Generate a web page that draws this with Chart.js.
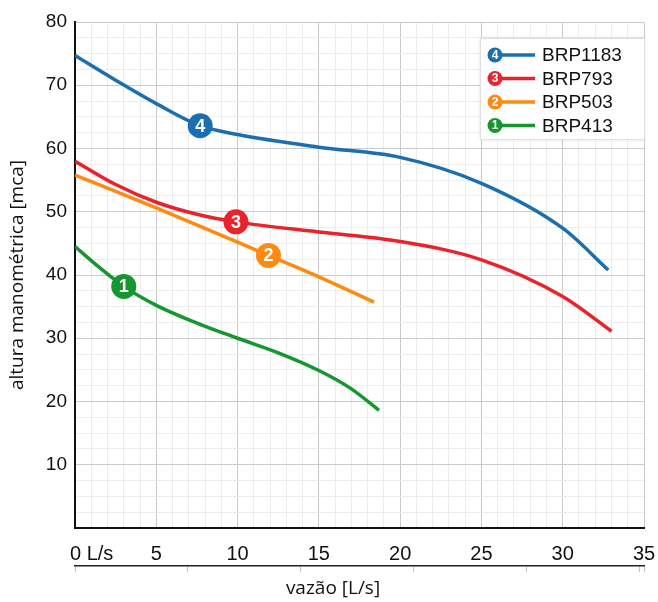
<!DOCTYPE html>
<html>
<head>
<meta charset="utf-8">
<script src="https://cdn.jsdelivr.net/npm/chart.js@4/dist/chart.umd.min.js"></script>
<style>
  html, body { margin: 0; padding: 0; background: #fff; }
  canvas { display: block; }
</style>
</head>
<body>
<canvas id="pumpChart" width="658" height="602"></canvas>
<script>
// pump curves: flow [L/s] vs head [mca]
const pumpNames = ["BRP1183", "BRP793", "BRP503", "BRP413"];
const pumpNumbers = ["4", "3", "2", "1"];
const pumpColors = ["#1b6fb1", "#e9222b", "#ff8a12", "#16962f"];

const flowBRP1183 = [0, 2.5, 5, 7.7, 10, 15, 20, 25, 30, 32.8];
const headBRP1183 = [74.7, 70.8, 67.1, 63.6, 62.2, 60.2, 58.6, 54.5, 47.4, 40.8];

const flowBRP793 = [0, 2.5, 5, 7.5, 9.9, 15, 20, 25, 30, 33.0];
const headBRP793 = [58.0, 54.3, 51.5, 49.6, 48.4, 46.8, 45.3, 42.4, 36.6, 31.1];

const flowBRP503 = [0, 5, 10, 11.9, 15, 18.4];
const headBRP503 = [55.8, 50.6, 45.2, 43.1, 39.7, 35.7];

const flowBRP413 = [0, 1.5, 3, 5, 7.5, 10, 12.5, 15, 17, 18.7];
const headBRP413 = [44.5, 41.2, 38.2, 35.2, 32.4, 30.0, 27.7, 24.9, 22.0, 18.6];

// index of the numbered badge on each curve
const badgeIndex = [3, 4, 3, 2];

// secondary (unlabelled) flow axis in m3/h
const flowM3hMax = 126;

const flows = [flowBRP1183, flowBRP793, flowBRP503, flowBRP413];
const heads = [headBRP1183, headBRP793, headBRP503, headBRP413];

const datasets = pumpNames.map((name, i) => ({
  label: name,
  data: flows[i].map((x, j) => ({ x: x, y: heads[i][j] })),
  borderColor: pumpColors[i],
  backgroundColor: pumpColors[i],
  borderWidth: 3.5,
  cubicInterpolationMode: "monotone",
  pointRadius: flows[i].map((_, j) => (j === badgeIndex[i] ? 12.5 : 0)),
  pointBorderWidth: 0,
  pointBackgroundColor: pumpColors[i],
  fill: false,
  xAxisID: "x",
  yAxisID: "y"
}));

const badgeText = {
  id: "badgeText",
  afterDatasetsDraw(chart) {
    const ctx = chart.ctx;
    ctx.save();
    ctx.fillStyle = "#fff";
    ctx.font = "bold 18px 'Liberation Sans', Arial, sans-serif";
    ctx.textAlign = "center";
    ctx.textBaseline = "middle";
    chart.data.datasets.forEach((ds, i) => {
      const pt = chart.getDatasetMeta(i).data[badgeIndex[i]];
      ctx.fillText(pumpNumbers[i], pt.x, pt.y + 1);
    });
    ctx.restore();
  }
};

const boxLegend = {
  id: "boxLegend",
  afterDraw(chart) {
    const ctx = chart.ctx;
    const left = 480, top = 38, w = 165, h = 102;
    ctx.save();
    ctx.shadowColor = "rgba(0,0,0,0.12)";
    ctx.shadowBlur = 3;
    ctx.fillStyle = "#fff";
    ctx.fillRect(left, top, w, h);
    ctx.shadowColor = "transparent";
    ctx.strokeStyle = "#e0e0e0";
    ctx.lineWidth = 1;
    ctx.strokeRect(left + 0.5, top + 0.5, w - 1, h - 1);
    pumpNames.forEach((name, i) => {
      const cy = top + 17 + i * 23.5;
      ctx.strokeStyle = pumpColors[i];
      ctx.lineWidth = 3.5;
      ctx.beginPath();
      ctx.moveTo(495, cy);
      ctx.lineTo(535, cy);
      ctx.stroke();
      ctx.fillStyle = pumpColors[i];
      ctx.beginPath();
      ctx.arc(495, cy, 7.5, 0, Math.PI * 2);
      ctx.fill();
      ctx.fillStyle = "#fff";
      ctx.font = "bold 12px 'Liberation Sans', Arial, sans-serif";
      ctx.textAlign = "center";
      ctx.textBaseline = "middle";
      ctx.fillText(pumpNumbers[i], 495, cy + 0.5);
      ctx.fillStyle = "#111";
      ctx.font = "19px 'Liberation Sans', Arial, sans-serif";
      ctx.textAlign = "left";
      ctx.fillText(name, 542, cy + 1);
    });
    ctx.restore();
  }
};

// x title sits a bit left of the plot centre in the original
const xTitle = {
  id: "xTitle",
  afterDraw(chart) {
    const ctx = chart.ctx;
    ctx.save();
    ctx.fillStyle = "#111";
    ctx.font = "19px 'Open Sans', sans-serif";
    ctx.textAlign = "center";
    ctx.textBaseline = "middle";
    ctx.fillText("vazão [L/s]", 333, 589);
    ctx.restore();
  }
};

const sans = "'Liberation Sans', Arial, sans-serif";
const noSidePad = (s) => { s.paddingLeft = 0; s.paddingRight = 0; };

new Chart(document.getElementById("pumpChart"), {
  type: "line",
  data: { datasets: datasets },
  options: {
    responsive: false,
    animation: false,
    devicePixelRatio: 1,
    layout: { padding: { top: 22, right: 14, left: 0, bottom: 0 } },
    plugins: { legend: { display: false }, tooltip: { enabled: false } },
    scales: {
      x: {
        type: "linear",
        position: "bottom",
        min: 0,
        max: 35,
        ticks: {
          stepSize: 1,
          autoSkip: false,
          maxRotation: 0,
          padding: 14,
          color: "#111",
          font: { family: sans, size: 20 },
          callback: (v) => (v === 0 ? "      0 L/s" : v % 5 === 0 ? String(v) : "")
        },
        grid: {
          drawTicks: false,
          color: (c) => (c.tick && c.tick.value % 5 === 0 ? "#cbcbcb" : "#ececec")
        },
        border: { color: "#111", width: 2 },
        afterFit: (s) => { s.height = 38; noSidePad(s); }
      },
      x2: {
        type: "linear",
        position: "bottom",
        min: 0,
        max: flowM3hMax,
        ticks: { stepSize: 25, callback: () => "", padding: 0, font: { size: 1 } },
        grid: { drawOnChartArea: false, drawTicks: true, tickLength: 6, color: "#c4c4c4" },
        border: { color: "#222", width: 1.5 },
        afterFit: (s) => { s.height = 36; noSidePad(s); }
      },
      y: {
        min: 0,
        max: 80,
        ticks: {
          stepSize: 2.5,
          autoSkip: false,
          padding: 8,
          color: "#111",
          font: { family: sans, size: 19 },
          callback: (v) => (v > 0 && v % 10 === 0 ? String(v) : "")
        },
        grid: {
          drawTicks: false,
          color: (c) => (c.tick && c.tick.value % 10 === 0 ? "#cbcbcb" : "#ececec")
        },
        border: { color: "#111", width: 2 },
        title: {
          display: true,
          text: "altura manométrica [mca]",
          color: "#111",
          font: { family: "'Open Sans', sans-serif", size: 19 },
          padding: { top: 6, bottom: 0 }
        },
        afterFit: (s) => { s.width = 75; }
      }
    }
  },
  plugins: [badgeText, boxLegend, xTitle]
});
</script>
</body>
</html>
